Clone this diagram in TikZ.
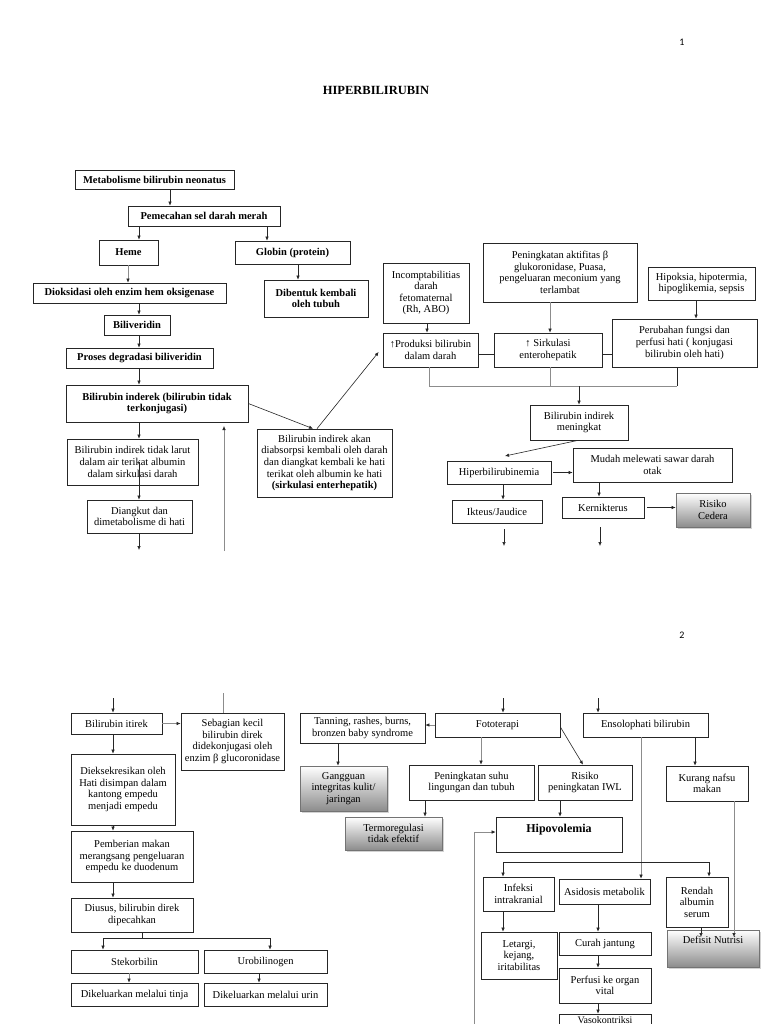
\documentclass[tikz,border=0pt]{standalone}
\usepackage{fontspec}
\setmainfont{Liberation Serif}
\newfontfamily\pnfont{Carlito}
\usetikzlibrary{arrows.meta,shadows}
\newcommand\mybox[7][bx]{\node[#1,minimum width=#5pt-#3pt,minimum height=#6pt-#4pt] (#2) at ({(#3+#5)/2},{(#4+#6)/2}) {#7};}
\begin{document}
\begin{tikzpicture}[x=1pt,y=-1pt,
  bx/.style={draw=black!85,line width=0.7pt,fill=white,align=center,inner sep=1.5pt,font=\fontsize{10.5}{11.6}\selectfont},
  bb/.style={bx,font=\fontsize{10.5}{11.6}\selectfont\bfseries},
  gbx/.style={bx,draw=black!55,top color=white,bottom color=black!45,drop shadow={opacity=0.35,shadow xshift=1.5pt,shadow yshift=-1.5pt}},
  arr/.style={draw=black!85,line width=0.6pt,-{Latex[length=4pt,width=3.5pt]}},
  garr/.style={draw=black!45,line width=0.6pt,-{Latex[length=4pt,width=3.5pt,color=black!85]}},
  ln/.style={draw=black!85,line width=0.6pt},
  gln/.style={draw=black!45,line width=0.6pt}]
\fill[white] (0,0) rectangle (768,1024);
\useasboundingbox (0,0) rectangle (768,1024);

% page 1
\node[font=\pnfont\fontsize{10}{12}\selectfont] (p1) at (682,42) {1};
\node[font=\fontsize{12.5}{14}\selectfont\bfseries] (title) at (376,90) {HIPERBILIRUBIN};

\mybox[bb]{met}{75}{170}{234}{189}{Metabolisme bilirubin neonatus}
\mybox[bb]{pem}{128}{206}{280}{226}{Pemecahan sel darah merah}
\mybox[bb]{heme}{99}{240}{158}{265}{Heme}
\mybox[bb]{glob}{235}{241}{350}{264}{Globin (protein)}
\mybox[bb]{dib}{264}{280}{368}{317}{Dibentuk kembali\\oleh tubuh}
\mybox[bb]{diok}{33}{283}{226}{303}{Dioksidasi oleh enzim hem oksigenase}
\mybox[bb]{bili}{104}{315}{170}{335}{Biliveridin}
\mybox[bb]{pros}{66}{348}{213}{368}{Proses degradasi biliveridin}
\mybox[bb]{ind}{66}{385}{248}{422}{Bilirubin inderek (bilirubin tidak\\terkonjugasi)}
\mybox{lar}{67}{439}{198}{485}{Bilirubin indirek tidak larut\\dalam air terikat albumin\\dalam sirkulasi darah}
\mybox{dia}{87}{500}{192}{533}{Diangkut dan\\dimetabolisme di hati}
\mybox{abs}{257}{429}{392}{497}{Bilirubin indirek akan\\diabsorpsi kembali oleh darah\\dan diangkat kembali ke hati\\terikat oleh albumin ke hati\\\textbf{(sirkulasi enterhepatik)}}

\mybox{inc}{383}{263}{469}{323}{Incomptabilitias\\darah\\fetomaternal\\(Rh, ABO)}
\mybox{pen}{483}{243}{637}{302}{Peningkatan aktifitas β\\glukoronidase, Puasa,\\pengeluaran meconium yang\\terlambat}
\mybox{hip}{648}{267}{755}{300}{Hipoksia, hipotermia,\\hipoglikemia, sepsis}
\mybox{prod}{383}{333}{478}{367}{↑Produksi bilirubin\\dalam darah}
\mybox{sirk}{494}{333}{602}{367}{↑ Sirkulasi\\enterohepatik}
\mybox{perub}{612}{319}{757}{367}{Perubahan fungsi dan\\perfusi hati ( konjugasi\\bilirubin oleh hati)}
\mybox{mening}{530}{405}{628}{440}{Bilirubin indirek\\meningkat}
\mybox{hiper}{447}{461}{551}{484}{Hiperbilirubinemia}
\mybox{mudah}{573}{448}{732}{482}{Mudah melewati sawar darah\\otak}
\mybox{ikt}{452}{500}{542}{523}{Ikteus/Jaudice}
\mybox{kern}{562}{497}{644}{518}{Kernikterus}
\mybox[gbx]{ced}{676}{493}{750}{527}{Risiko\\Cedera}

\draw[arr] (170,0 |- met.south) -- (170,0 |- pem.north);
\draw[arr] (139,0 |- pem.south) -- (139,0 |- heme.north);
\draw[arr] (267,0 |- pem.south) -- (267,0 |- glob.north);
\draw[arr] (298,0 |- glob.south) -- (298,0 |- dib.north);
\draw[garr] (128,0 |- heme.south) -- (128,0 |- diok.north);
\draw[arr] (139,0 |- diok.south) -- (139,0 |- bili.north);
\draw[arr] (139,0 |- bili.south) -- (139,0 |- pros.north);
\draw[arr] (139,0 |- pros.south) -- (139,0 |- ind.north);
\draw[arr] (139,0 |- ind.south) -- (139,0 |- lar.north);
\draw[arr] (139,0 |- lar.center) -- (139,0 |- dia.north);
\coordinate (d1) at (139,550);
\draw[arr] (139,0 |- dia.south) -- (d1);
\coordinate (u1) at (224,551);
\draw[garr] (u1) -- (224,426);
\draw[arr] (ind.east) -- (313,0 |- abs.north);
\draw[arr] (317,0 |- abs.north) -- ([xshift=-4pt,yshift=-2pt]prod.west);
\draw[arr] (427,0 |- inc.south) -- (427,0 |- prod.north);
\draw[garr] (550,0 |- pen.south) -- (550,0 |- sirk.north);
\draw[arr] (696,0 |- hip.south) -- (696,0 |- perub.north);
\draw[ln] (prod.east |- 0,354) -- (sirk.west |- 0,354);
\draw[ln] (sirk.east |- 0,354) -- (perub.west |- 0,354);
\draw[gln] (429,0 |- prod.south) -- (429,386) -- (677,386);
\draw[ln] (677,0 |- perub.south) -- (677,386);
\draw[gln] (550,0 |- sirk.south) -- (550,386);
\draw[arr] (579,386) -- (579,0 |- mening.north);
\coordinate (h1) at (505,456);
\draw[arr] (578,0 |- mening.south) -- (h1);
\draw[arr] ([xshift=2pt]hiper.east) -- (mudah.west |- hiper.east);
\draw[arr] (503,0 |- hiper.south) -- (503,0 |- ikt.north);
\draw[arr] (599,0 |- mudah.south) -- (599,0 |- kern.north);
\draw[arr] ([xshift=3pt]kern.east) -- (ced.west |- kern.east);
\coordinate (i1) at (504,546);
\draw[arr] ([yshift=-6pt]504,0 |- ikt.south) -- (i1);
\coordinate (k1) at (600,546);
\draw[arr] ([yshift=-9pt]600,0 |- kern.south) -- (k1);

% page 2
\node[font=\pnfont\fontsize{10}{12}\selectfont] (p2) at (682,635) {2};

\mybox{itirek}{71}{713}{162}{734}{Bilirubin itirek}
\mybox{seb}{181}{713}{284}{770}{Sebagian kecil\\bilirubin direk\\didekonjugasi oleh\\enzim β glucoronidase}
\mybox{ekskr}{71}{754}{175}{825}{Dieksekresikan oleh\\Hati disimpan dalam\\kantong empedu\\menjadi empedu}
\mybox{pemb}{71}{831}{193}{882}{Pemberian makan\\merangsang pengeluaran\\empedu ke duodenum}
\mybox{usus}{71}{898}{193}{932}{Diusus, bilirubin direk\\dipecahkan}
\mybox{stek}{71}{950}{198}{973}{Stekorbilin}
\mybox{uro}{204}{950}{327}{973}{Urobilinogen}
\mybox{tinja}{71}{983}{198}{1006}{Dikeluarkan melalui tinja}
\mybox{urin}{204}{983}{327}{1006}{Dikeluarkan melalui urin}

\mybox{tan}{300}{713}{425}{743}{Tanning, rashes, burns,\\bronzen baby syndrome}
\mybox{foto}{435}{713}{560}{737}{Fototerapi}
\mybox{enso}{583}{713}{708}{737}{Ensolophati bilirubin}
\mybox[gbx]{gang}{300}{766}{387}{811}{Gangguan\\integritas kulit/\\jaringan}
\mybox{suhu}{409}{765}{534}{800}{Peningkatan suhu\\lingungan dan tubuh}
\mybox{iwl}{538}{765}{632}{800}{Risiko\\peningkatan IWL}
\mybox{kur}{666}{766}{748}{801}{Kurang nafsu\\makan}
\mybox[gbx]{termo}{345}{817}{442}{850}{Termoregulasi\\tidak efektif}
\mybox[bb,font=\fontsize{12}{13}\selectfont\bfseries,text height=9pt,text depth=14pt]{hipo}{496}{817}{622}{852}{Hipovolemia}
\mybox{inf}{483}{877}{554}{911}{Infeksi\\intrakranial}
\mybox{asid}{559}{879}{650}{904}{Asidosis metabolik}
\mybox{rend}{666}{877}{728}{927}{Rendah\\albumin\\serum}
\mybox[gbx,text height=8pt,text depth=18pt]{def}{667}{930}{759}{967}{Defisit Nutrisi}
\mybox{let}{481}{932}{557}{979}{Letargi,\\kejang,\\iritabilitas}
\mybox{curah}{559}{932}{651}{955}{Curah jantung}
\mybox{perf}{559}{968}{651}{1003}{Perfusi ke organ\\vital}
\mybox[bx,font=\fontsize{10}{11}\selectfont,text height=6pt,text depth=24pt]{vaso}{559}{1014}{651}{1050}{Vasokontriksi}

\coordinate (t1) at (113,698);
\draw[arr] (t1) -- (113,0 |- itirek.north);
\coordinate (t2) at (223,693);
\draw[gln] (t2) -- (223,0 |- seb.north);
\draw[garr] (itirek.east) -- (seb.west |- itirek.east);
\draw[arr] (113,0 |- itirek.south) -- (113,0 |- ekskr.north);
\draw[arr] (113,0 |- ekskr.south) -- (113,0 |- pemb.north);
\draw[arr] (113,0 |- pemb.south) -- (113,0 |- usus.north);
\draw[ln] (142,0 |- usus.south) -- (142,938);
\draw[ln] (103,938) -- (270,938);
\draw[arr] (103,938) -- (103,0 |- stek.north);
\draw[arr] (270,938) -- (270,0 |- uro.north);
\draw[garr] (129,0 |- stek.south) -- (129,0 |- tinja.north);
\draw[arr] (259,0 |- uro.south) -- (259,0 |- urin.north);

\coordinate (t3) at (503,698);
\draw[arr] (t3) -- (503,0 |- foto.north);
\coordinate (t4) at (598,698);
\draw[arr] (t4) -- (598,0 |- enso.north);
\draw[garr] (foto.west) -- (tan.east |- foto.west);
\draw[arr] (338,0 |- tan.south) -- (338,0 |- gang.north);
\draw[garr] (481,0 |- foto.south) -- (481,0 |- suhu.north);
\draw[arr] ([yshift=-2pt]foto.east) -- (583,0 |- iwl.north);
\draw[arr] (425,0 |- suhu.south) -- (425,0 |- termo.north);
\draw[arr] (560,0 |- iwl.south) -- (560,0 |- hipo.north);
\draw[arr] (695,0 |- enso.south) -- (695,0 |- kur.north);
\draw[garr] (641,0 |- enso.south) -- (641,0 |- asid.north);
\draw[ln] (503,862) -- (709,862);
\draw[arr] (503,862) -- (503,0 |- inf.north);
\draw[arr] (709,862) -- (709,0 |- rend.north);
\draw[garr] (734,0 |- kur.south) -- (734,937);
\draw[arr] (701,0 |- rend.south) -- (701,937);
\draw[arr] (503,0 |- inf.south) -- (503,0 |- let.north);
\draw[arr] (598,0 |- asid.south) -- (598,0 |- curah.north);
\draw[arr] (598,0 |- curah.south) -- (598,0 |- perf.north);
\draw[arr] (598,0 |- perf.south) -- (598,0 |- vaso.north);
\coordinate (b1) at (474,1030);
\draw[garr] (b1) -- (474,832) -- (hipo.west |- 0,832);
\end{tikzpicture}
\end{document}
